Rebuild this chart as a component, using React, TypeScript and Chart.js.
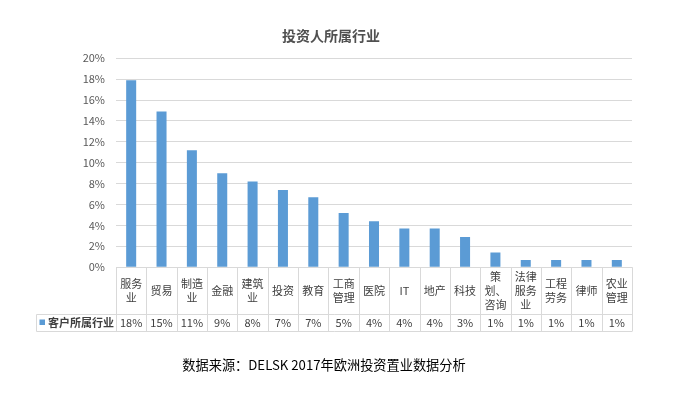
import React, { useEffect, useRef } from "react";
import { Chart, registerables } from "chart.js";

Chart.register(...registerables);

const titleText = "投资人所属行业";
const sourceText = "数据来源：DELSK 2017年欧洲投资置业数据分析";
const seriesName = "客户所属行业";

const categories: string[][] = [
  ["服务", "业"],
  ["贸易"],
  ["制造", "业"],
  ["金融"],
  ["建筑", "业"],
  ["投资"],
  ["教育"],
  ["工商", "管理"],
  ["医院"],
  ["IT"],
  ["地产"],
  ["科技"],
  ["策", "划、", "咨询"],
  ["法律", "服务", "业"],
  ["工程", "劳务"],
  ["律师"],
  ["农业", "管理"],
];

const values: number[] = [17.9, 14.9, 11.2, 9.0, 8.2, 7.4, 6.7, 5.2, 4.4, 3.7, 3.7, 2.9, 1.4, 0.7, 0.7, 0.7, 0.7];

const valueLabels: string[] = ["18%", "15%", "11%", "9%", "8%", "7%", "7%", "5%", "4%", "4%", "4%", "3%", "1%", "1%", "1%", "1%", "1%"];

const yTicks = { min: 0, max: 20, step: 2 };

const FONT = '"Noto Sans CJK SC", "Noto Sans", sans-serif';
const BAR_COLOR = "#5B9BD5";
const LINE_COLOR = "#D9D9D9";
const TEXT_COLOR = "#404040";

const HEADER_H = 46.6;
const VALUE_H = 17.4;
const LEGEND_LEFT = 36;
const PAD_LEFT = 30;
const PAD_BOTTOM = 66.8;

const tablePlugin = {
  id: "dataTable",
  afterDraw(chart: any) {
    const { ctx, chartArea } = chart;
    const xs = chart.scales.x;
    const n = categories.length;
    const step = xs.getPixelForValue(1) - xs.getPixelForValue(0);
    const top = chartArea.bottom;
    const mid = top + HEADER_H;
    const bot = mid + VALUE_H;
    const px = (v: number) => Math.round(v) + 0.5;

    ctx.save();
    ctx.strokeStyle = LINE_COLOR;
    ctx.lineWidth = 1;
    ctx.beginPath();
    for (let i = 0; i <= n; i++) {
      const x = i < n ? xs.getPixelForValue(i) - step / 2 : xs.getPixelForValue(n - 1) + step / 2;
      ctx.moveTo(px(x), top);
      ctx.lineTo(px(x), px(bot));
    }
    ctx.moveTo(px(LEGEND_LEFT), px(mid));
    ctx.lineTo(px(LEGEND_LEFT), px(bot));
    ctx.moveTo(px(LEGEND_LEFT), px(mid));
    ctx.lineTo(chartArea.right, px(mid));
    ctx.moveTo(px(LEGEND_LEFT), px(bot));
    ctx.lineTo(chartArea.right, px(bot));
    ctx.stroke();

    ctx.fillStyle = TEXT_COLOR;
    ctx.textAlign = "center";
    ctx.textBaseline = "middle";
    ctx.font = `11px ${FONT}`;
    const lh = 14;
    categories.forEach((lines, i) => {
      const cx = xs.getPixelForValue(i);
      const cy = top + HEADER_H / 2;
      const start = cy - ((lines.length - 1) * lh) / 2;
      lines.forEach((ln, j) => ctx.fillText(ln, cx, start + j * lh));
    });
    valueLabels.forEach((t, i) => {
      ctx.fillText(t, xs.getPixelForValue(i), mid + VALUE_H / 2);
    });

    // legend key cell
    ctx.fillStyle = BAR_COLOR;
    ctx.fillRect(39.5, mid + VALUE_H / 2 - 3, 5.5, 5.5);
    ctx.fillStyle = TEXT_COLOR;
    ctx.textAlign = "left";
    ctx.font = `bold 11px ${FONT}`;
    ctx.fillText(seriesName, 48, mid + VALUE_H / 2);

    // source note
    ctx.fillStyle = "#000000";
    ctx.textAlign = "center";
    ctx.font = `13.2px ${FONT}`;
    ctx.fillText(sourceText, 324, bot + 34);
    ctx.restore();
  },
};

export default function App() {
  const ref = useRef<HTMLCanvasElement>(null);

  useEffect(() => {
    if (!ref.current) return;
    const chart = new Chart(ref.current, {
      type: "bar",
      data: {
        labels: categories.map((c) => c.join("")),
        datasets: [
          {
            label: seriesName,
            data: values,
            backgroundColor: BAR_COLOR,
            categoryPercentage: 1,
            barPercentage: 0.33,
          },
        ],
      },
      options: {
        responsive: false,
        animation: false,
        layout: { padding: { left: PAD_LEFT, right: 59, top: 0, bottom: PAD_BOTTOM } },
        plugins: {
          legend: { display: false },
          tooltip: { enabled: false },
          title: {
            display: true,
            text: titleText,
            color: "#505050",
            font: { family: FONT, size: 14, weight: "bold" },
            padding: { top: 27, bottom: 14.5 },
          },
        },
        scales: {
          x: {
            grid: { display: false },
            border: { display: false },
            ticks: { display: false },
            afterFit: (s: any) => {
              s.height = HEADER_H + VALUE_H;
            },
          },
          y: {
            min: yTicks.min,
            max: yTicks.max,
            border: { display: false },
            grid: { color: LINE_COLOR, drawTicks: false, lineWidth: 1 },
            ticks: {
              stepSize: yTicks.step,
              padding: 11,
              color: "#595959",
              font: { family: FONT, size: 11 },
              callback: (v: any) => `${v}%`,
            },
            afterFit: (s: any) => {
              s.width = 116 - PAD_LEFT;
            },
          },
        },
      },
      plugins: [tablePlugin],
    });
    return () => chart.destroy();
  }, []);

  return (
    <div style={{ position: "absolute", left: 0, top: 0, width: 691, height: 398, background: "#fff" }}>
      <canvas ref={ref} width={691} height={398} />
    </div>
  );
}
